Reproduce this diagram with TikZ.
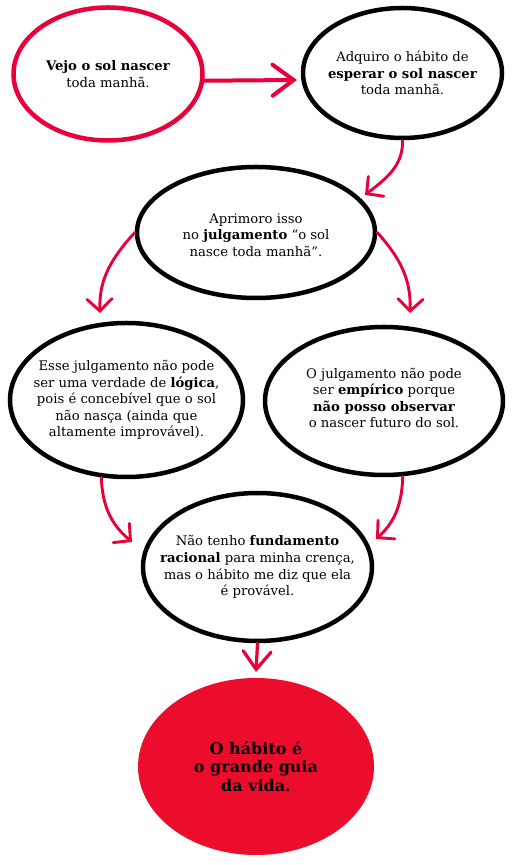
\documentclass[tikz,border=0pt]{standalone}
\usepackage{fontspec}
\setmainfont{DejaVu Serif}
\usetikzlibrary{shapes.geometric,arrows.meta}
\definecolor{hred}{RGB}{232,0,58}
\definecolor{hfill}{RGB}{236,12,44}
\tikzset{
  bubble/.style={ellipse, draw=black, line width=4.5pt, inner sep=0pt},
  redbubble/.style={bubble, draw=hred},
  finalbubble/.style={ellipse, fill=hfill, draw=none, inner sep=0pt},
  txt/.style={align=center, inner sep=0pt, font=\fontsize{13.2}{16.6}\selectfont},
  finaltxt/.style={align=center, inner sep=0pt, font=\fontsize{16}{18.7}\selectfont\bfseries},
  flow/.style={draw=hred, line width=2.9pt, line cap=round,
    -{Straight Barb[length=12pt,width=25pt,line width=2.9pt, line cap=round]}},
  bigflow/.style={draw=hred, line width=4pt, line cap=round,
    -{Straight Barb[length=21pt,width=31pt,line width=4pt, line cap=round]}},
}
\begin{document}
\begin{tikzpicture}[x=1pt,y=1pt]
\useasboundingbox (0,0) rectangle (519,865);
\node[redbubble, minimum width=189pt, minimum height=133pt] (A) at (108,791) {};
\node[txt] (At) at (A) {\textbf{Vejo o sol nascer}\\toda manhã.};
\node[bubble, minimum width=199pt, minimum height=130pt] (B) at (402.5,792) {};
\node[txt] (Bt) at (B) {Adquiro o hábito de\\\textbf{esperar o sol nascer}\\toda manhã.};
\node[bubble, minimum width=238pt, minimum height=131pt] (C) at (256,632.5) {};
\node[txt] (Ct) at (256,630) {Aprimoro isso\\no \textbf{julgamento} “o sol\\nasce toda manhã”.};
\node[bubble, minimum width=233pt, minimum height=154pt] (D) at (126.5,465) {};
\node[txt] (Dt) at (D) {Esse julgamento não pode\\ser uma verdade de \textbf{lógica},\\pois é concebível que o sol\\não nasça (ainda que\\altamente improvável).};
\node[bubble, minimum width=238pt, minimum height=148pt] (E) at (384,464) {};
\node[txt] (Et) at (384,467) {O julgamento não pode\\ser \textbf{empírico} porque\\\textbf{não posso observar}\\o nascer futuro do sol.};
\node[bubble, minimum width=229pt, minimum height=148pt] (F) at (257.5,298) {};
\node[txt] (Ft) at (F) {Não tenho \textbf{fundamento}\\\textbf{racional} para minha crença,\\mas o hábito me diz que ela\\é provável.};
\node[finalbubble, minimum width=236pt, minimum height=177pt] (G) at (256,98.5) {};
\node[finaltxt] (Gt) at (G) {O hábito é\\o grande guia\\da vida.};
% arrow tips
\coordinate (tAB) at (297,785);
\coordinate (tBC) at (365,670);
\coordinate (tCD) at (100,552);
\coordinate (tCE) at (410,552);
\coordinate (tDF) at (132,323);
\coordinate (tEF) at (376,326);
\coordinate (tFG) at (256,193);
% connectors
\draw[bigflow] (A.-4) -- (tAB);
\draw[flow] (B.south) to[out=-88, in=38] (tBC);
\draw[flow] (C.west) to[out=228, in=92] (tCD);
\draw[flow] (C.east) to[out=-48, in=88] (tCE);
\draw[flow] (D.-108) to[out=-88, in=140] (tDF);
\draw[flow] (E.-76) to[out=-92, in=42] (tEF);
\draw[bigflow, -{Straight Barb[length=18pt,width=28pt,line width=3.2pt, line cap=round]}, line width=3.2pt] (F.south) -- (tFG);
\end{tikzpicture}
\end{document}
